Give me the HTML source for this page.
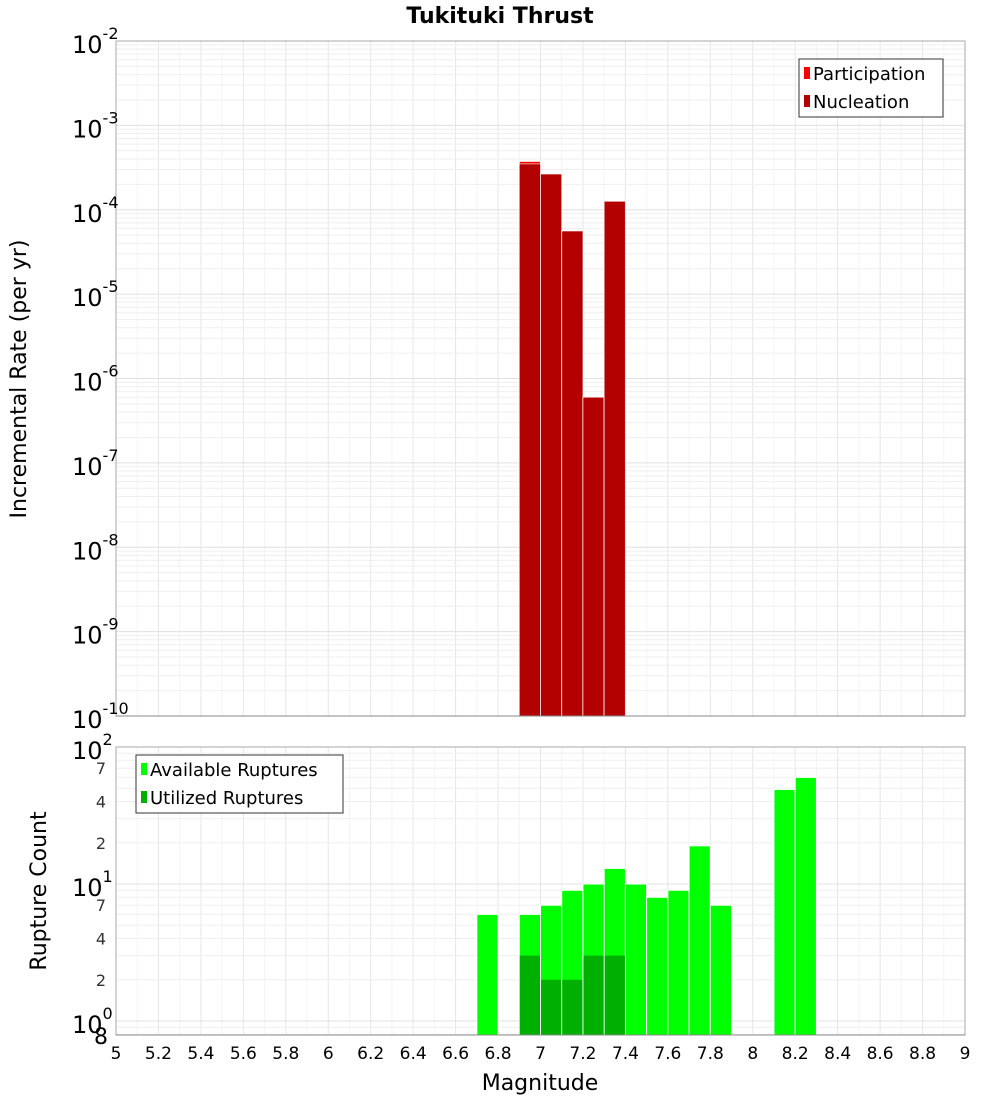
<!DOCTYPE html>
<html><head><meta charset="utf-8"><style>
html,body{margin:0;padding:0;background:#fff;}
svg{display:block;font-family:"DejaVu Sans","Liberation Sans",sans-serif;}
</style></head><body>
<svg id="chart" width="1000" height="1100" viewBox="0 0 1000 1100">
<text x="500" y="23" text-anchor="middle" font-size="22" font-weight="bold">Tukituki Thrust</text>
<g id="topPlot"></g>
<g id="botPlot"></g>
</svg>
<script>
const magBins = [6.9, 7.0, 7.1, 7.2, 7.3];
const participation = [3.75e-4, 2.65e-4, 5.6e-5, 6.0e-7, 1.26e-4];
const nucleation = [3.5e-4, 2.65e-4, 5.6e-5, 6.0e-7, 1.26e-4];
const availBins = [6.7, 6.9, 7.0, 7.1, 7.2, 7.3, 7.4, 7.5, 7.6, 7.7, 7.8, 8.1, 8.2];
const available = [6, 6, 7, 9, 10, 13, 10, 8, 9, 19, 7, 49, 60];
const utilBins = [6.9, 7.0, 7.1, 7.2, 7.3];
const utilized = [3, 2, 2, 3, 3];
const xTicks = [5,5.2,5.4,5.6,5.8,6,6.2,6.4,6.6,6.8,7,7.2,7.4,7.6,7.8,8,8.2,8.4,8.6,8.8,9];
const topExps = [-2,-3,-4,-5,-6,-7,-8,-9,-10];
const botMinorLabels = [2,4,7,20,40,70];

const NS='http://www.w3.org/2000/svg';
const L=116,R=965;
const X=m=>L+(m-5)/4*(R-L);
const T0=41,T1=716;
const yTop=v=>T0+(-2-Math.log10(v))*(T1-T0)/8;
const B0=747,B1=1035;
const dec=137;
const yBot=v=>B0+(2-Math.log10(v))*dec;
function mk(p,tag,a,txt){const e=document.createElementNS(NS,tag);for(const k in a)e.setAttribute(k,a[k]);if(txt!==undefined)e.textContent=txt;p.appendChild(e);return e;}
const gTop=document.getElementById('topPlot'),gBot=document.getElementById('botPlot');

mk(gTop,'rect',{x:L,y:T0,width:R-L,height:T1-T0,fill:'#fff'});
mk(gBot,'rect',{x:L,y:B0,width:R-L,height:B1-B0,fill:'#fff'});
for(let i=0;i<=40;i++){const m=5+i*0.1;const x=X(m);
 [gTop,gBot].forEach((g,gi)=>{const l=mk(g,'line',{x1:x,x2:x,y1:gi?B0:T0,y2:gi?B1:T1,stroke:i%2?'#f4f4f4':'#e6e6e6','stroke-width':1});
 
 });}
for(let e=-10;e<-2;e++){for(let k=1;k<10;k++){const v=k*Math.pow(10,e);const y=yTop(v);
 const l=mk(gTop,'line',{x1:L,x2:R,y1:y,y2:y,stroke:k===1?'#e0e0e0':'#efefef','stroke-width':1});
 
 }}
for(let e=-1;e<2;e++){for(let k=1;k<10;k++){const v=k*Math.pow(10,e);if(v<0.8)continue;const y=yBot(v);
 const l=mk(gBot,'line',{x1:L,x2:R,y1:y,y2:y,stroke:k===1?'#e0e0e0':'#efefef','stroke-width':1});
 
 }}

const bw=X(5.1)-X(5);
magBins.forEach((m,i)=>{
 const y=yTop(participation[i]);
 const r=mk(gTop,'rect',{x:X(m),y:y,width:bw,height:T1-y,fill:'#ff0000',stroke:'#fff','stroke-width':1});
 
 
 const y2=yTop(nucleation[i]);
 const r2=mk(gTop,'rect',{x:X(m),y:y2,width:bw,height:T1-y2,fill:'#b30000',stroke:'#fff','stroke-width':1,'stroke-opacity':0.6});
 
 
});
availBins.forEach((m,i)=>{const y=yBot(available[i]);
 const r=mk(gBot,'rect',{x:X(m),y:y,width:bw,height:B1-y,fill:'#00ff00',stroke:'#fff','stroke-width':1});
 
 });
utilBins.forEach((m,i)=>{const y=yBot(utilized[i]);
 const r=mk(gBot,'rect',{x:X(m)+0.5,y:y,width:bw-1,height:B1-y,fill:'#00b000'});
 
 });
mk(gTop,'rect',{x:L,y:T0,width:R-L,height:T1-T0,fill:'none',stroke:'#aaa','stroke-width':1});
mk(gBot,'rect',{x:L,y:B0,width:R-L,height:B1-B0,fill:'none',stroke:'#aaa','stroke-width':1});
mk(gTop,'line',{x1:L,x2:R,y1:T1,y2:T1,stroke:'#888'});
mk(gBot,'line',{x1:L,x2:R,y1:B1,y2:B1,stroke:'#888'});

topExps.forEach(e=>{const y=yTop(Math.pow(10,e));
 const t=mk(gTop,'text',{x:72,y:y+12,'font-size':24,fill:'#000'});
 
 
 t.textContent='10';
 mk(t,'tspan',{dy:-14,'font-size':16},String(e));});
[2,1,0].forEach(e=>{const y=yBot(Math.pow(10,e));
 const t=mk(gBot,'text',{x:72,y:y+12,'font-size':24,fill:'#000'});
 
 
 t.textContent='10';
 mk(t,'tspan',{dy:-14,'font-size':16},String(e));});
botMinorLabels.forEach(v=>{const y=yBot(v);
 const t=mk(gBot,'text',{x:106,y:y+6,'font-size':16,'text-anchor':'end',fill:'#333'},String(v%10===0?v/10:v));
 
 });
{const t=mk(gBot,'text',{x:108,y:B1+9,'font-size':22,'text-anchor':'end',fill:'#000'},'8');
 
 }
xTicks.forEach(m=>{const t=mk(gBot,'text',{x:X(m),y:1059,'font-size':17,'text-anchor':'middle',fill:'#000'},String(m));
 
 });
mk(gBot,'text',{x:540,y:1090,'font-size':22,'text-anchor':'middle',},'Magnitude');
mk(gTop,'text',{x:0,y:0,'font-size':22,'text-anchor':'middle',transform:'translate(26,379) rotate(-90)',},'Incremental Rate (per yr)');
mk(gBot,'text',{x:0,y:0,'font-size':22,'text-anchor':'middle',transform:'translate(46,891) rotate(-90)',},'Rupture Count');

function legend(g,x,y,w,h,items,name){const lg=mk(g,'g',{});
 
 
 mk(lg,'rect',{x:x,y:y,width:w,height:h,fill:'#fff',stroke:'#333','stroke-width':1});
 items.forEach((it,i)=>{const yy=y+14+i*28;
  mk(lg,'rect',{x:x+5,y:yy-6,width:6,height:12,fill:it[1]});
  const t=mk(lg,'text',{x:x+14,y:yy+7,'font-size':18,fill:'#000'},it[0]);
  
  });}
legend(gTop,799,59,144,58,[['Participation','#ff0000'],['Nucleation','#b30000']],'rate-legend');
legend(gBot,136,755,207,58,[['Available Ruptures','#00ff00'],['Utilized Ruptures','#00b000']],'count-legend');
</script>
</body></html>
